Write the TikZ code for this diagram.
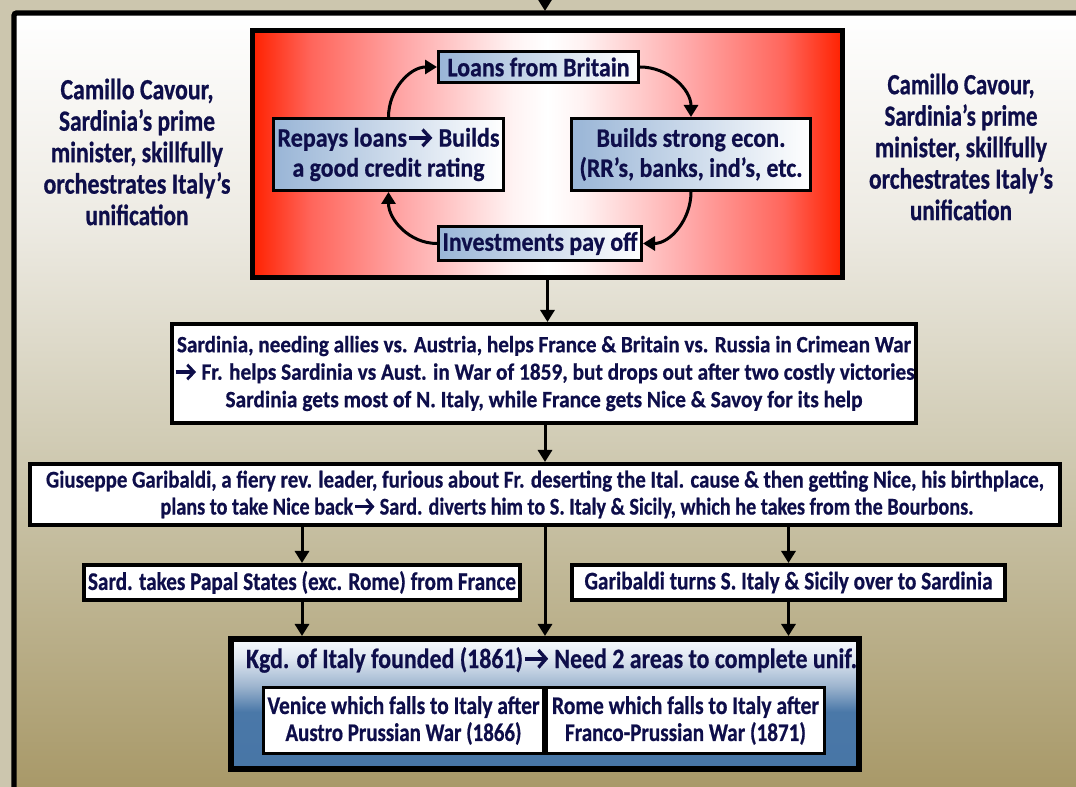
\documentclass[tikz,border=0pt]{standalone}
\usepackage{fontspec}
\usepackage{graphicx}
\setmainfont{Carlito}[BoldFeatures={FakeBold=0.7}]
\usetikzlibrary{arrows.meta}

\definecolor{ink}{RGB}{14,14,74}
\definecolor{outerbg}{RGB}{204,198,174}

% page background: near white at the top, olive at the bottom
\pgfdeclareverticalshading{pagefade}{100bp}{%
  rgb(0bp)=(0.66,0.60,0.41); rgb(25bp)=(0.66,0.60,0.41);
  rgb(41bp)=(0.77,0.74,0.62); rgb(47.5bp)=(0.82,0.80,0.71);
  rgb(61.5bp)=(0.93,0.92,0.89); rgb(75bp)=(1,1,1); rgb(100bp)=(1,1,1)}
% red frame of the credit cycle, white in the middle
\pgfdeclarehorizontalshading{redfade}{100bp}{%
  rgb(0bp)=(1,0.13,0); rgb(25bp)=(1,0.13,0); rgb(30bp)=(1,0.40,0.36);
  rgb(38bp)=(1,0.66,0.66); rgb(47bp)=(1,0.95,0.95); rgb(50bp)=(1,1,1);
  rgb(53bp)=(1,0.95,0.95); rgb(62bp)=(1,0.66,0.66); rgb(70bp)=(1,0.40,0.36);
  rgb(75bp)=(1,0.13,0); rgb(100bp)=(1,0.13,0)}
% light steel blue to white, for the cycle steps
\pgfdeclarehorizontalshading{stepfade}{100bp}{%
  rgb(0bp)=(0.60,0.71,0.84); rgb(25bp)=(0.60,0.71,0.84);
  rgb(75bp)=(1,1,1); rgb(100bp)=(1,1,1)}
% kingdom box: pale at the top, steel blue below
\pgfdeclareverticalshading{kgdfade}{100bp}{%
  rgb(0bp)=(0.28,0.46,0.65); rgb(25bp)=(0.28,0.46,0.65);
  rgb(47bp)=(0.29,0.47,0.66); rgb(57bp)=(0.62,0.71,0.81);
  rgb(68bp)=(0.88,0.91,0.95); rgb(75bp)=(0.97,0.98,0.99); rgb(100bp)=(0.97,0.98,0.99)}

% one line of text, squeezed horizontally to a given width (in px)
\newsavebox\fitbox
\newlength\fitlen
\newcommand\fitline[2]{\sbox\fitbox{#2}\setlength\fitlen{\wd\fitbox}%
  \pgfmathsetmacro\fitsc{#1*0.75/\fitlen}\scalebox{\fitsc}[1]{\usebox\fitbox}}
% heavy chevron arrow used inside the texts
\newcommand\tarr{\kern0.04em\tikz[baseline=0pt]{%
  \draw[ink, line width=0.13em, line cap=butt] (0em,0.33em) -- (0.78em,0.33em);
  \draw[ink, line width=0.13em, line join=miter] (0.54em,0.64em) -- (0.86em,0.33em) -- (0.54em,0.02em);}\kern0.06em}

\tikzset{
  txt/.style={text=ink, align=center, inner sep=0pt},
  cyclebox/.style={draw=black, line width=2.25pt, shading=stepfade, inner sep=0pt},
  plainbox/.style={draw=black, line width=3pt, fill=white, inner sep=0pt},
  arr/.style={line width=2.25pt, -{Triangle[width=10.5pt,length=9pt]}},
  fsSide/.style={font=\fontsize{22pt}{23.6pt}\selectfont\bfseries},
  fsCyc/.style={font=\fontsize{20pt}{22.5pt}\selectfont\bfseries},
  fsMid/.style={font=\fontsize{17.5pt}{20.6pt}\selectfont\bfseries},
  fsGar/.style={font=\fontsize{18pt}{20.25pt}\selectfont\bfseries},
  fsSmall/.style={font=\fontsize{19pt}{20.25pt}\selectfont\bfseries},
  fsKgd/.style={font=\fontsize{21pt}{22pt}\selectfont\bfseries}
}

\begin{document}
\begin{tikzpicture}[x=0.75pt,y=-0.75pt]
\useasboundingbox (0,0) rectangle (1076,787);
\begin{scope}
  \clip (0,0) rectangle (1076,787);
  \fill[outerbg] (0,0) rectangle (1076,787);
  \shade[shading=pagefade] (14,13) rectangle (1076,787);
  \draw[line width=4pt, rounded corners=2pt] (14,830) -- (14,13) -- (1130,13);
  \coordinate (above) at (545,-20);
  \coordinate (frametop) at (545,11);
  \draw[arr] (above) -- (frametop);
\end{scope}

% side captions
\node[txt, fsSide] (capL) at (137,152) {%
  \fitline{153}{Camillo Cavour,}\\\fitline{156}{Sardinia’s prime}\\
  \fitline{172}{minister, skillfully}\\\fitline{187}{orchestrates Italy’s}\\
  \fitline{103}{unification}};
\node[txt, fsSide] (capR) at (961,147) {%
  \fitline{147}{Camillo Cavour,}\\\fitline{153}{Sardinia’s prime}\\
  \fitline{172}{minister, skillfully}\\\fitline{184}{orchestrates Italy’s}\\
  \fitline{102}{unification}};

% credit cycle
\node[draw=black, line width=3.75pt, shading=redfade, minimum width=442.5pt,
      minimum height=185.25pt, inner sep=0pt] (cycle) at (547.5,154) {};
\node[cyclebox, minimum width=150pt, minimum height=23.25pt] (loans) at (538.5,67) {};
\node[txt, fsCyc] at (loans) {\fitline{182}{Loans from Britain}};
\node[cyclebox, minimum width=172.5pt, minimum height=54pt] (repays) at (388.5,154.5) {};
\node[txt, fsCyc] at (repays) {\fitline{222}{Repays loans\tarr{} Builds}\\\fitline{192}{a good credit rating}};
\node[cyclebox, minimum width=179.25pt, minimum height=54pt] (builds) at (691,154.5) {};
\node[txt, fsCyc] at (builds) {\fitline{189}{Builds strong econ.}\\\fitline{223}{(RR’s, banks, ind’s, etc.}};
\node[cyclebox, minimum width=152.25pt, minimum height=25.5pt] (invest) at (540,243.5) {};
\node[txt, fsCyc] at (invest) {\fitline{195}{Investments pay off}};

\draw[arr] (loans.east) to[out=0, in=90] (builds.north);
\draw[arr] (builds.south) to[out=-90, in=0] (invest.east);
\draw[arr] (invest.west) to[out=180, in=-90] (repays.south);
\draw[arr] (repays.north) to[out=90, in=180] (loans.west);

% chain of events
\node[plainbox, minimum width=558pt, minimum height=74.25pt] (crimea) at (544,373.5) {};
\node[txt, fsMid] at (crimea) {%
  \fitline{734}{Sardinia, needing allies vs. Austria, helps France \& Britain vs. Russia in Crimean War}\\
  \fitline{741}{\tarr{} Fr. helps Sardinia vs Aust. in War of 1859, but drops out after two costly victories}\\
  \fitline{637}{Sardinia gets most of N. Italy, while France gets Nice \& Savoy for its help}};
\node[plainbox, minimum width=772.5pt, minimum height=45.75pt] (garib) at (545,494.5) {};
\node[txt, fsGar] at (garib) {%
  \fitline{998}{Giuseppe Garibaldi, a fiery rev. leader, furious about Fr. deserting the Ital. cause \& then getting Nice, his birthplace,}\\
  \hspace*{33pt}\fitline{813}{plans to take Nice back\tarr{} Sard. diverts him to S. Italy \& Sicily, which he takes from the Bourbons.}};
\node[plainbox, minimum width=327pt, minimum height=26.25pt] (papal) at (302,582.5) {};
\node[txt, fsSmall] at (papal) {\fitline{428}{Sard. takes Papal States (exc. Rome) from France}};
\node[plainbox, minimum width=324.75pt, minimum height=26.25pt] (south) at (788.5,582.5) {};
\node[txt, fsSmall] at (south) {\fitline{408}{Garibaldi turns S. Italy \& Sicily over to Sardinia}};

% kingdom of Italy
\node[draw=black, line width=4.5pt, shading=kgdfade, minimum width=471pt,
      minimum height=97.5pt, inner sep=0pt] (kgd) at (545,704) {};
\node[txt, fsKgd] (kgdtitle) at (551.5,660) {\fitline{611}{Kgd. of Italy founded (1861)\tarr{} Need 2 areas to complete unif.}};
\node[plainbox, line width=2.25pt, minimum width=210pt, minimum height=49.5pt] (venice) at (403.5,720.5) {};
\node[txt, fsSmall] at (venice) {\fitline{272}{Venice which falls to Italy after}\\\fitline{236}{Austro Prussian War (1866)}};
\node[plainbox, line width=2.25pt, minimum width=208.5pt, minimum height=49.5pt] (rome) at (685.5,720.5) {};
\node[txt, fsSmall] at (rome) {\fitline{267}{Rome which falls to Italy after}\\\fitline{241}{Franco-Prussian War (1871)}};

% connectors
\draw[arr] (cycle.south) -- (crimea.north -| cycle.south);
\draw[arr] (crimea.south -| garib.north) -- (garib.north);
\draw[arr] (garib.south -| papal.north) -- (papal.north);
\draw[arr] (garib.south -| kgd.north) -- (kgd.north);
\draw[arr] (garib.south -| south.north) -- (south.north);
\draw[arr] (papal.south) -- (papal.south |- kgd.north);
\draw[arr] (south.south) -- (south.south |- kgd.north);
\end{tikzpicture}
\end{document}
